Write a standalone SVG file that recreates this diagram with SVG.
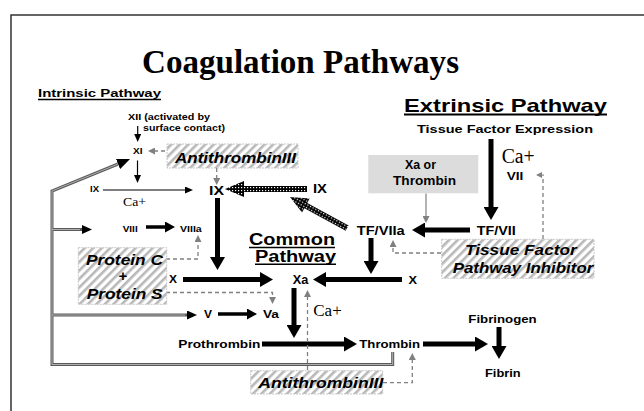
<svg xmlns="http://www.w3.org/2000/svg" width="644" height="411" viewBox="0 0 644 411">
<style>
text{font-family:"Liberation Sans",Arial,sans-serif;font-weight:bold;fill:#000}
.serif{font-family:"Liberation Serif","Times New Roman",serif;font-weight:normal}
.bi{font-style:italic;font-size:15px}
.s9{font-size:9.5px}.s11{font-size:11.5px}.s12{font-size:12.5px}
.big{stroke:#000;stroke-width:5;fill:none;marker-end:url(#bh)}
.med{stroke:#000;stroke-width:3.5;fill:none;marker-end:url(#mh)}
.thin{stroke:#000;stroke-width:1.2;fill:none;marker-end:url(#th)}
.gd{stroke:#808080;stroke-width:1.3;stroke-dasharray:4 3;fill:none;marker-end:url(#gh)}
.gs{stroke:#888;stroke-width:1.3;fill:none;marker-end:url(#gh)}
.fb{stroke:#5a5a5a;stroke-width:3;fill:none}
.fbi{stroke:#b0b0b0;stroke-width:1;fill:none}
.hbox{fill:url(#hatch);stroke:#c8c8c8;stroke-width:1;stroke-dasharray:2 1}
.ul{stroke:#000;fill:none}
</style>
<defs>
<pattern id="hatch" patternUnits="userSpaceOnUse" width="6" height="6" patternTransform="rotate(45)">
<rect width="6" height="6" fill="#fff"/>
<rect width="2.6" height="6" fill="#b8b8b8"/>
</pattern>
<pattern id="dots" patternUnits="userSpaceOnUse" width="3" height="3">
<rect width="3" height="3" fill="#000"/>
<rect x="1" y="1" width="1.2" height="1.2" fill="#fff"/>
</pattern>
<marker id="bh" markerUnits="userSpaceOnUse" markerWidth="13" markerHeight="15" viewBox="0 -7.5 13 15" refX="0" refY="0" orient="auto"><path d="M0,-7.5 L13,0 L0,7.5 z" fill="#000"/></marker>
<marker id="mh" markerUnits="userSpaceOnUse" markerWidth="10" markerHeight="11" viewBox="0 -5.5 10 11" refX="0" refY="0" orient="auto"><path d="M0,-5.5 L10,0 L0,5.5 z" fill="#000"/></marker>
<marker id="th" markerUnits="userSpaceOnUse" markerWidth="8" markerHeight="7" viewBox="0 -3.5 8 7" refX="0" refY="0" orient="auto"><path d="M0,-3.5 L8,0 L0,3.5 z" fill="#000"/></marker>
<marker id="gh" markerUnits="userSpaceOnUse" markerWidth="7" markerHeight="7" viewBox="0 -3.5 7 7" refX="0" refY="0" orient="auto"><path d="M0,-3.5 L7,0 L0,3.5 z" fill="#808080"/></marker>
<marker id="fh" markerUnits="userSpaceOnUse" markerWidth="10" markerHeight="9" viewBox="0 -4.5 10 9" refX="0" refY="0" orient="auto"><path d="M0,-4.5 L10,0 L0,4.5 z" fill="#000"/></marker>
<marker id="fh2" markerUnits="userSpaceOnUse" markerWidth="13" markerHeight="11" viewBox="0 -5.5 13 11" refX="0" refY="0" orient="auto"><path d="M0,-5.5 L13,0 L0,5.5 z" fill="#000"/></marker>
</defs>
<rect width="644" height="411" fill="#fff"/>
<path d="M11,411 V15 H644" stroke="#333" stroke-width="1.5" fill="none"/>

<g id="title">
<text class="serif" x="142" y="73.3" font-size="34" font-weight="bold" style="font-weight:bold" textLength="317" lengthAdjust="spacingAndGlyphs">Coagulation Pathways</text>
</g>

<g id="connectors">
<path class="fb" d="M392.7,352 V364.5 H52 V191 L118,164" marker-end="url(#fh2)"/>
<path class="fb" d="M52,229.5 H82" marker-end="url(#fh)"/>
<path class="fb" d="M52,315 H187" marker-end="url(#fh)"/>
<path class="fbi" d="M392.7,352 V364.5 H52 V191 L118,164"/>
<path class="fbi" d="M52,229.5 H80 M52,315 H185"/>
<line class="big" x1="491" y1="139" x2="491" y2="207"/>
<line class="big" x1="470" y1="230" x2="425" y2="230"/>
<line class="big" x1="371" y1="238" x2="371" y2="261"/>
<line class="big" x1="402" y1="279.5" x2="326" y2="279.5"/>
<line class="big" x1="183" y1="279.5" x2="260" y2="279.5"/>
<line class="big" x1="217.5" y1="198" x2="217.5" y2="257"/>
<line class="big" x1="294" y1="288" x2="294" y2="325"/>
<line class="big" x1="262" y1="344" x2="344" y2="344"/>
<line class="big" x1="423" y1="344" x2="475" y2="344"/>
<line class="big" x1="499" y1="327" x2="499" y2="346"/>
<line class="med" x1="146" y1="227" x2="165" y2="227"/>
<line class="med" x1="218" y1="314" x2="247" y2="314"/>
<line class="thin" x1="137.7" y1="126" x2="137.7" y2="134"/>
<line class="thin" x1="137.5" y1="160.5" x2="137.5" y2="175"/>
<line class="thin" x1="103" y1="190" x2="185" y2="190"/>
<line class="gs" x1="426" y1="193.5" x2="426" y2="216"/>
<line class="gd" x1="165" y1="151" x2="155" y2="151"/>
<line class="gd" x1="216.7" y1="168" x2="216.7" y2="178"/>
<path class="gd" d="M166,259 H198 V242"/>
<path class="gd" d="M166,292.5 H272.5 V297"/>
<path class="gd" d="M441,253 H393 V247"/>
<path class="gd" d="M543,239 V175 H542.5" style="marker-end:none"/>
<path d="M536,175 L542,172 L542,178 z" fill="#808080"/>
<line class="gd" x1="307.5" y1="370" x2="307.5" y2="297"/>
<path class="gd" d="M383,382.7 H412.3 V360"/>
<g transform="translate(225,189)">
<path d="M0,0 L19,-8 L19,-3 L82,-3 L82,3 L19,3 L19,8 z" fill="url(#dots)"/>
</g>
<g transform="translate(290,197) rotate(28.5)">
<path d="M0,0 L18,-8 L18,-3 L65,-3 L65,3 L18,3 L18,8 z" fill="url(#dots)"/>
</g>
</g>

<g id="intrinsic-label">
<text x="38" y="97" font-size="11" textLength="123" lengthAdjust="spacingAndGlyphs">Intrinsic Pathway</text>
<line class="ul" x1="38" y1="99.5" x2="161" y2="99.5" stroke-width="1.3"/>
</g>
<g id="extrinsic-label">
<text x="404" y="111.5" font-size="19" textLength="203" lengthAdjust="spacingAndGlyphs">Extrinsic Pathway</text>
<line class="ul" x1="404" y1="114.5" x2="607" y2="114.5" stroke-width="2"/>
</g>
<g id="tf-expression"><text class="s11" x="417" y="133" textLength="176" lengthAdjust="spacingAndGlyphs">Tissue Factor Expression</text></g>
<g id="xii">
<text class="s9" x="128" y="120" textLength="82" lengthAdjust="spacingAndGlyphs">XII (activated by</text>
<text class="s9" x="143" y="131" textLength="82" lengthAdjust="spacingAndGlyphs">surface contact)</text>
</g>
<g id="xi"><text class="s9" x="133" y="154" textLength="9.5" lengthAdjust="spacingAndGlyphs">XI</text></g>
<g id="ix-left"><text class="s9" x="90" y="192" textLength="9" lengthAdjust="spacingAndGlyphs">IX</text></g>
<g id="ca-left"><text class="serif" x="123" y="206" font-size="13" textLength="23" lengthAdjust="spacingAndGlyphs">Ca+</text></g>
<g id="ix-center"><text x="209" y="195" font-size="13.5" textLength="15" lengthAdjust="spacingAndGlyphs">IX</text></g>
<g id="ix-right"><text x="313" y="193" font-size="12.5" textLength="14" lengthAdjust="spacingAndGlyphs">IX</text></g>
<g id="antithrombin1">
<rect class="hbox" x="167" y="144" width="131" height="24"/>
<text class="bi" x="175" y="163" textLength="121" lengthAdjust="spacingAndGlyphs">AntithrombinIII</text>
</g>
<g id="viii"><text class="s9" x="122.7" y="231.7" textLength="15" lengthAdjust="spacingAndGlyphs">VIII</text></g>
<g id="viiia"><text class="s9" x="180" y="231.7" textLength="21.7" lengthAdjust="spacingAndGlyphs">VIIIa</text></g>
<g id="protein-cs">
<rect class="hbox" x="78.3" y="247.7" width="88.4" height="56.6"/>
<text class="bi" x="86" y="265" textLength="77" lengthAdjust="spacingAndGlyphs">Protein C</text>
<text class="bi" x="122.7" y="281" text-anchor="middle">+</text>
<text class="bi" x="86.7" y="299" textLength="76" lengthAdjust="spacingAndGlyphs">Protein S</text>
</g>
<g id="x-left"><text x="169" y="283.3" font-size="10.5" textLength="8" lengthAdjust="spacingAndGlyphs">X</text></g>
<g id="common-label">
<text x="249" y="245" font-size="16" textLength="86" lengthAdjust="spacingAndGlyphs">Common</text>
<line class="ul" x1="249" y1="247.5" x2="335" y2="247.5" stroke-width="1.6"/>
<text x="255" y="261.7" font-size="16" textLength="81" lengthAdjust="spacingAndGlyphs">Pathway</text>
<line class="ul" x1="255" y1="264.3" x2="336" y2="264.3" stroke-width="1.6"/>
</g>
<g id="xa"><text x="292.7" y="284" font-size="12" textLength="15.6" lengthAdjust="spacingAndGlyphs">Xa</text></g>
<g id="x-right"><text x="408.5" y="284" font-size="11" textLength="8.5" lengthAdjust="spacingAndGlyphs">X</text></g>
<g id="tf-viia"><text x="356.7" y="234.5" font-size="12.5" textLength="48" lengthAdjust="spacingAndGlyphs">TF/VIIa</text></g>
<g id="tf-vii"><text x="476.7" y="234.5" font-size="12.5" textLength="39" lengthAdjust="spacingAndGlyphs">TF/VII</text></g>
<g id="xa-or-thrombin">
<rect x="368.3" y="155" width="110" height="38.3" fill="#dcdcdc"/>
<text class="s12" x="420.5" y="169.3" text-anchor="middle" textLength="31" lengthAdjust="spacingAndGlyphs">Xa or</text>
<text class="s12" x="424.5" y="185" text-anchor="middle" textLength="63" lengthAdjust="spacingAndGlyphs">Thrombin</text>
</g>
<g id="ca-right"><text class="serif" x="501.7" y="162.7" font-size="20" textLength="33" lengthAdjust="spacingAndGlyphs">Ca+</text></g>
<g id="vii"><text x="506.7" y="180" font-size="11" textLength="16.6" lengthAdjust="spacingAndGlyphs">VII</text></g>
<g id="tfpi">
<rect class="hbox" x="441.7" y="239.3" width="152.3" height="39"/>
<text class="bi" x="465" y="255" textLength="111.7" lengthAdjust="spacingAndGlyphs">Tissue Factor</text>
<text class="bi" x="452.7" y="272.7" textLength="140.6" lengthAdjust="spacingAndGlyphs">Pathway Inhibitor</text>
</g>
<g id="v"><text x="204" y="318" font-size="11" textLength="8" lengthAdjust="spacingAndGlyphs">V</text></g>
<g id="va"><text x="263" y="318" font-size="11" textLength="16" lengthAdjust="spacingAndGlyphs">Va</text></g>
<g id="ca-mid"><text class="serif" x="313.3" y="316" font-size="17" textLength="28.4" lengthAdjust="spacingAndGlyphs">Ca+</text></g>
<g id="prothrombin"><text class="s11" x="178.3" y="348.3" textLength="82" lengthAdjust="spacingAndGlyphs">Prothrombin</text></g>
<g id="thrombin"><text class="s11" x="359.3" y="348.3" textLength="60.7" lengthAdjust="spacingAndGlyphs">Thrombin</text></g>
<g id="fibrinogen"><text class="s11" x="468.3" y="323.3" textLength="68.4" lengthAdjust="spacingAndGlyphs">Fibrinogen</text></g>
<g id="fibrin"><text class="s11" x="485" y="376.7" textLength="35.7" lengthAdjust="spacingAndGlyphs">Fibrin</text></g>
<g id="antithrombin2">
<rect class="hbox" x="250.7" y="370.7" width="132" height="23.3"/>
<text class="bi" x="258.3" y="388.3" textLength="125" lengthAdjust="spacingAndGlyphs">AntithrombinIII</text>
</g>
</svg>
